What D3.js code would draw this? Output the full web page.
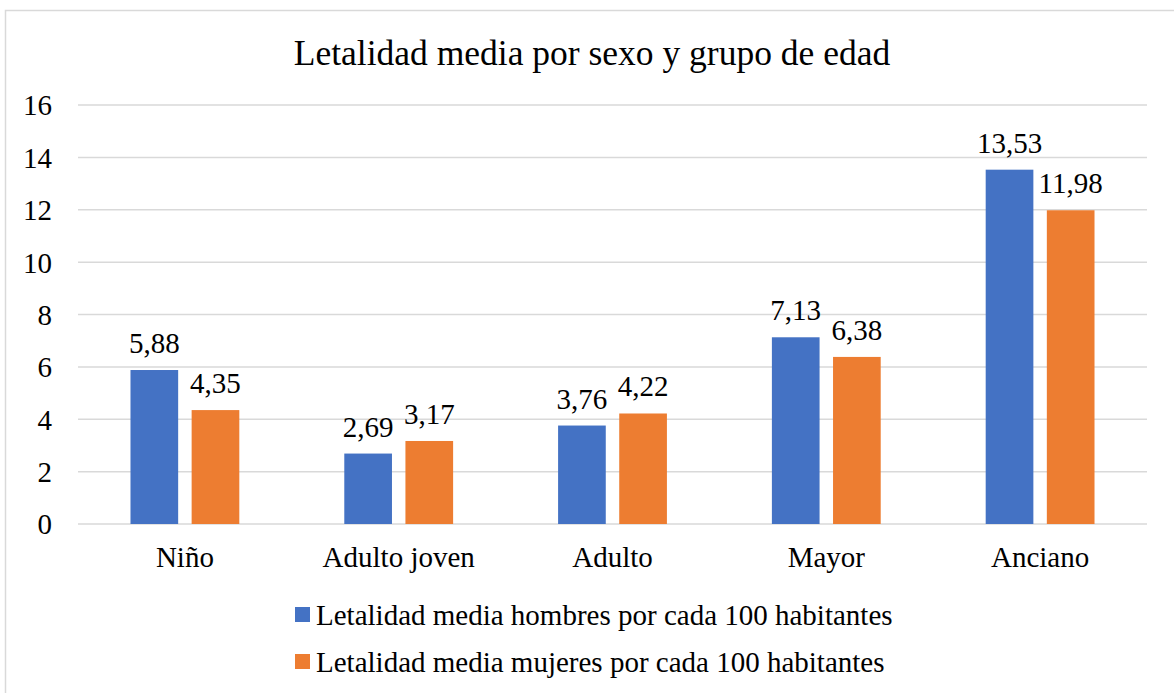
<!DOCTYPE html>
<html>
<head>
<meta charset="utf-8">
<script src="https://cdn.jsdelivr.net/npm/d3@7"></script>
<style>
  html, body { margin: 0; padding: 0; background: #fff; }
  svg { display: block; }
  text { font-family: "Liberation Serif", "Times New Roman", serif; fill: #000; }
</style>
</head>
<body>
<svg id="chart" width="1174" height="693"></svg>
<script>
// Age groups and mean lethality per 100 inhabitants
const categories = ["Niño", "Adulto joven", "Adulto", "Mayor", "Anciano"];
const seriesNames = [
  "Letalidad media hombres por cada 100 habitantes",
  "Letalidad media mujeres por cada 100 habitantes"
];
const menValues = [5.88, 2.69, 3.76, 7.13, 13.53];
const womenValues = [4.35, 3.17, 4.22, 6.38, 11.98];
const yTicks = [0, 2, 4, 6, 8, 10, 12, 14, 16];
const titleText = "Letalidad media por sexo y grupo de edad";

const colors = ["#4472C4", "#ED7D31"];
const series = [menValues, womenValues];
const serif = '"Liberation Serif", "Times New Roman", serif';
const labelSize = "29px";

const svg = d3.select("#chart");
const W = 1174, H = 693;
const plot = { left: 78, right: 1147, top: 105, bottom: 524 };

// Chart area frame
svg.append("rect")
  .attr("x", 5.5).attr("y", 10.5)
  .attr("width", W + 20).attr("height", H + 20)
  .attr("fill", "#fff")
  .attr("stroke", "#d9d9d9").attr("stroke-width", 1.5);

// Title
svg.append("text")
  .attr("x", (297 + 887) / 2).attr("y", 65)
  .attr("text-anchor", "middle")
  .style("font-size", "35.5px")
  .text(titleText);

const x = d3.scaleBand().domain(categories).range([plot.left, plot.right]);
const y = d3.scaleLinear().domain([0, 16]).range([plot.bottom, plot.top]);

// Horizontal gridlines
svg.append("g")
  .selectAll("line")
  .data(yTicks)
  .join("line")
  .attr("x1", plot.left).attr("x2", plot.right)
  .attr("y1", d => y(d)).attr("y2", d => y(d))
  .attr("stroke", "#d9d9d9").attr("stroke-width", 1.5);

// Y axis labels
const yAxis = d3.axisLeft(y).tickValues(yTicks).tickSize(0).tickPadding(0).tickFormat(d3.format("d"));
const yg = svg.append("g").attr("transform", `translate(52,0)`).call(yAxis);
yg.attr("font-family", null).attr("font-size", null);
yg.select(".domain").remove();
yg.selectAll("text")
  .style("font-size", labelSize)
  .style("font-family", serif)
  .attr("fill", "#000")
  .attr("dy", "0.34em");

// X axis labels
const xAxis = d3.axisBottom(x).tickSize(0).tickPadding(0);
const xg = svg.append("g").attr("transform", `translate(0,${plot.bottom})`).call(xAxis);
xg.attr("font-family", null).attr("font-size", null);
xg.select(".domain").remove();
xg.selectAll("text")
  .style("font-size", labelSize)
  .style("font-family", serif)
  .attr("fill", "#000")
  .attr("dy", null)
  .attr("y", 43);

// Bars: two per group, width and gap follow the band width
const bw = x.bandwidth();
const barW = bw * 0.223;
const gap = bw * 0.063;
const offsets = [-(gap / 2 + barW), gap / 2];

const fmt = v => d3.format(".2f")(v).replace(".", ",");

series.forEach((vals, si) => {
  const g = svg.append("g");
  g.selectAll("rect")
    .data(vals)
    .join("rect")
    .attr("x", (d, i) => x(categories[i]) + bw / 2 + offsets[si])
    .attr("y", d => y(d))
    .attr("width", barW)
    .attr("height", d => y(0) - y(d))
    .attr("fill", colors[si]);
  g.selectAll("text")
    .data(vals)
    .join("text")
    .attr("x", (d, i) => x(categories[i]) + bw / 2 + offsets[si] + barW / 2)
    .attr("y", d => y(d) - 17)
    .attr("text-anchor", "middle")
    .style("font-size", labelSize)
    .text(d => fmt(d));
});

// Legend
const legend = svg.append("g");
seriesNames.forEach((name, i) => {
  const ly = 615 + i * 47;
  legend.append("rect")
    .attr("x", 295).attr("y", ly - 8)
    .attr("width", 15).attr("height", 15)
    .attr("fill", colors[i]);
  legend.append("text")
    .attr("x", 316).attr("y", ly + 10)
    .style("font-size", labelSize)
    .text(name);
});
</script>
</body>
</html>
